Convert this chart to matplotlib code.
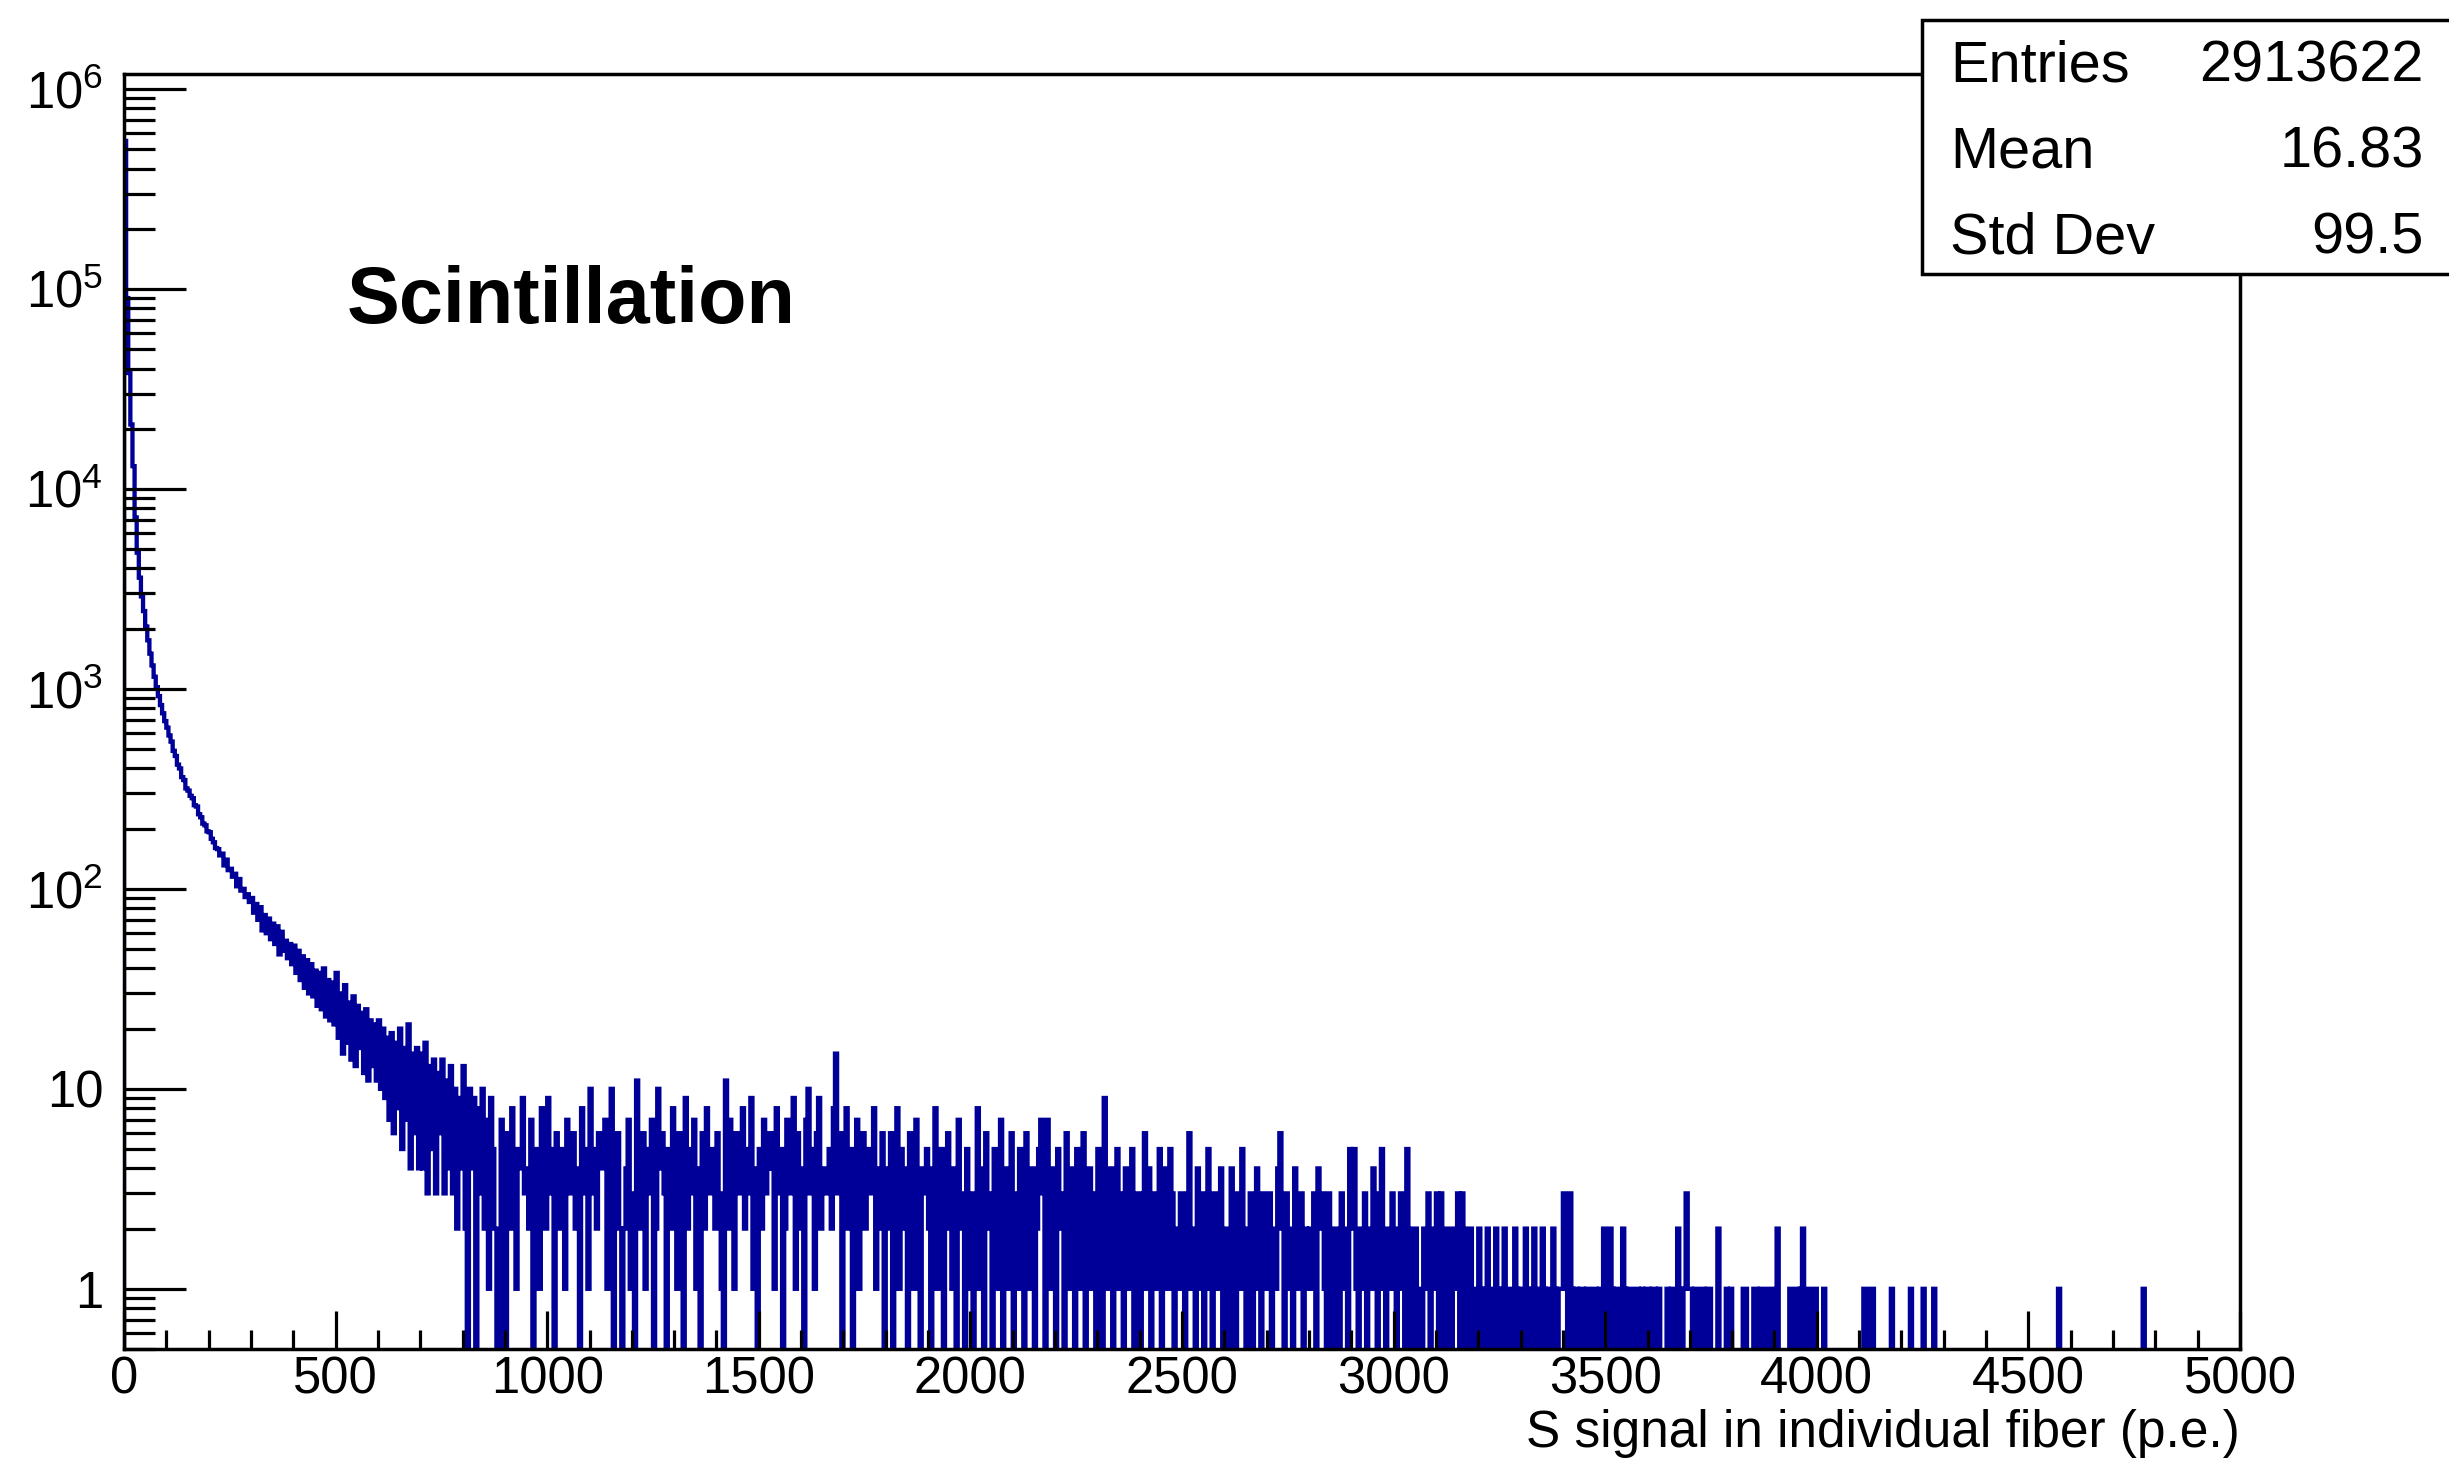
import numpy as np
import matplotlib.pyplot as plt
from matplotlib.patches import Rectangle
from matplotlib.ticker import MultipleLocator, LogLocator, NullFormatter, FixedLocator

plt.rcParams['font.family'] = ['Liberation Sans', 'DejaVu Sans']
plt.rcParams['mathtext.fontset'] = 'custom'
plt.rcParams['mathtext.rm'] = 'Liberation Sans'
plt.rcParams['mathtext.it'] = 'Liberation Sans:italic'
plt.rcParams['mathtext.bf'] = 'Liberation Sans:bold'

# histogram: 5 p.e. bins from 0 to 5000, counts
bin_width = 5
x_max = 5000

# 0 - 100 p.e.
head_counts = [550000, 90000, 38000, 21000, 13000, 7200, 4800, 3600, 2900, 2450,
               2050, 1750, 1500, 1310, 1150, 1020, 920, 830, 755, 690]

# 100 - 900 p.e.
falloff_counts = [
    640, 585, 545, 490, 462, 418, 400, 362, 350, 318, 310, 292, 284, 262, 258, 236, 228, 212, 208, 194,
    192, 178, 171, 160, 158, 147, 150, 131, 140, 124, 126, 115, 119, 103, 112, 98, 100, 91, 94, 86,
    90, 76, 84, 70, 81, 62, 74, 60, 71, 56, 67, 53, 65, 47, 61, 49, 55, 45, 53, 42,
    52, 38, 49, 35, 46, 32, 44, 30, 42, 29, 39, 26, 38, 25, 40, 23, 35, 22, 34, 21,
    38, 18, 30, 15, 33, 17, 27, 14, 29, 13, 26, 16, 24, 12, 25, 11, 22, 13, 21, 11,
    22, 10, 20, 9, 18, 7, 19, 6, 17, 8, 20, 5, 16, 7, 21, 4, 15, 6, 16, 4,
    15, 4, 17, 3, 13, 5, 14, 3, 12, 6, 14, 3, 11, 4, 13, 3, 10, 2, 9, 4,
    13, 2, 0, 10, 4, 9, 0, 8, 3, 10, 2, 7, 1, 9, 5, 2, 0, 0, 7, 3,
]

# 900 - 2800 p.e.
plateau_counts = [
    0, 6, 2, 8, 3, 1, 5, 4, 9, 3, 4, 2, 7, 0, 5, 3, 1, 8, 4, 2,
    9, 3, 5, 0, 6, 2, 5, 4, 1, 7, 3, 4, 6, 2, 4, 0, 8, 3, 5, 1,
    10, 3, 5, 2, 6, 4, 4, 7, 1, 5, 10, 0, 3, 6, 2, 0, 2, 4, 7, 1,
    3, 0, 11, 4, 2, 6, 1, 5, 3, 7, 0, 2, 10, 4, 6, 3, 0, 5, 2, 8,
    4, 1, 6, 3, 0, 9, 2, 5, 3, 7, 1, 4, 0, 6, 2, 8, 3, 5, 5, 2,
    6, 3, 1, 0, 11, 2, 7, 4, 1, 6, 3, 5, 8, 2, 5, 3, 9, 1, 4, 0,
    5, 2, 7, 3, 4, 6, 4, 1, 8, 3, 5, 0, 2, 7, 4, 3, 9, 1, 6, 2,
    4, 0, 7, 10, 3, 5, 1, 6, 9, 2, 4, 3, 3, 5, 2, 8, 15, 3, 6, 0,
    3, 8, 2, 5, 0, 4, 7, 1, 3, 6, 2, 5, 5, 3, 8, 1, 4, 2, 6, 0,
    4, 2, 6, 0, 3, 8, 1, 5, 2, 4, 0, 6, 3, 1, 7, 2, 0, 4, 3, 5,
    2, 0, 4, 8, 1, 3, 5, 0, 2, 6, 3, 1, 4, 0, 7, 2, 3, 0, 5, 1,
    3, 0, 2, 8, 1, 4, 0, 6, 2, 3, 0, 5, 1, 3, 7, 0, 2, 4, 1, 6,
    0, 3, 1, 5, 2, 0, 6, 3, 1, 4, 0, 2, 5, 7, 3, 0, 7, 1, 4, 2,
    0, 5, 2, 3, 0, 6, 1, 4, 2, 0, 5, 3, 1, 6, 0, 2, 4, 1, 3, 0,
    5, 2, 0, 9, 3, 1, 4, 0, 2, 5, 1, 3, 0, 4, 2, 1, 5, 0, 3, 2,
    0, 3, 6, 1, 4, 0, 2, 3, 1, 5, 0, 2, 4, 1, 5, 3, 0, 2, 1, 3,
    2, 0, 3, 6, 1, 2, 0, 4, 1, 3, 0, 2, 5, 1, 0, 3, 2, 1, 4, 0,
    2, 1, 0, 4, 2, 0, 3, 1, 5, 2, 0, 1, 3, 0, 2, 4, 1, 0, 3, 2,
    1, 3, 0, 2, 1, 4, 6, 2, 0, 3, 1, 2, 0, 4, 2, 1, 3, 0, 2, 1,
]

# 2800 - 4000 p.e.
tail_counts = [
    2, 1, 3, 0, 4, 2, 3, 1, 0, 3, 2, 0, 1, 2, 0, 3, 1, 2, 0, 5,
    2, 5, 1, 0, 2, 1, 3, 0, 2, 1, 4, 3, 0, 2, 5, 1, 0, 2, 1, 3,
    1, 0, 2, 3, 1, 0, 5, 2, 0, 1, 2, 0, 1, 0, 2, 1, 3, 0, 1, 2,
    3, 0, 3, 1, 0, 2, 1, 0, 2, 1, 3, 0, 3, 2, 0, 1, 2, 0, 1, 0,
    2, 1, 0, 1, 2, 0, 1, 0, 2, 1, 0, 1, 2, 0, 1, 1, 0, 2, 1, 0,
    1, 0, 2, 1, 0, 1, 2, 0, 1, 0, 2, 1, 0, 1, 0, 2, 1, 0, 1, 1,
    3, 1, 0, 3, 1, 0, 1, 0, 1, 1, 0, 1, 0, 0, 1, 1, 0, 1, 0, 2,
    1, 0, 2, 1, 0, 1, 0, 0, 2, 1, 0, 1, 1, 0, 0, 1, 0, 1, 0, 1,
    1, 0, 1, 1, 0, 1, 0, 0, 0, 1, 0, 1, 1, 0, 2, 1, 0, 1, 3, 1,
    1, 0, 1, 1, 0, 0, 1, 0, 1, 1, 0, 0, 0, 2, 0, 0, 0, 1, 0, 1,
    0, 0, 0, 0, 0, 1, 1, 0, 0, 0, 1, 1, 0, 1, 0, 0, 1, 0, 0, 1,
    0, 2, 0, 0, 0, 0, 0, 1, 0, 0, 1, 0, 1, 2, 0, 0, 1, 0, 0, 1,
]

# single entries beyond 4000 p.e.
far_tail_hits = [4015, 4110, 4118, 4131, 4176, 4220, 4252, 4279, 4574, 4773]

stats_labels = ['Entries', 'Mean', 'Std Dev']
stats_values = ['2913622', '16.83', '99.5']

y_ticks = [1, 10, 1e2, 1e3, 1e4, 1e5, 1e6]
y_tick_labels = ['1', '10', r'$10^{2}$', r'$10^{3}$', r'$10^{4}$', r'$10^{5}$', r'$10^{6}$']

counts = np.zeros(int(x_max / bin_width))
dense = np.array(head_counts + falloff_counts + plateau_counts + tail_counts, dtype=float)
counts[:len(dense)] = dense
for hit in far_tail_hits:
    counts[int(hit // bin_width)] += 1
edges = np.arange(0, x_max + bin_width, bin_width)

W, H = 2449, 1468
fig = plt.figure(figsize=(W / 100, H / 100), dpi=100)
ax = fig.add_axes([124 / W, 1 - 1349 / H, 2116 / W, (1349 - 74.3) / H])

floor = 1e-2
ax.stairs(np.where(counts > 0, counts, floor), edges, baseline=floor,
          color='#000099', lw=3.1)

ax.set_yscale('log')
ax.set_ylim(0.5, 1.184e6)
ax.set_xlim(0, x_max)

ax.yaxis.set_major_locator(FixedLocator(y_ticks))
ax.set_yticklabels(y_tick_labels)
ax.yaxis.set_minor_locator(LogLocator(base=10, subs=np.arange(2, 10), numticks=30))
ax.yaxis.set_minor_formatter(NullFormatter())
ax.xaxis.set_major_locator(MultipleLocator(500))
ax.xaxis.set_minor_locator(MultipleLocator(100))

ax.tick_params(axis='both', which='both', direction='in', top=False, right=False)
ax.tick_params(axis='y', which='major', length=44.6, width=2.3, labelsize=36.5, pad=15)
ax.tick_params(axis='y', which='minor', length=22.3, width=2.3)
ax.tick_params(axis='x', which='major', length=27.5, width=2.3, labelsize=36.5, pad=5)
ax.tick_params(axis='x', which='minor', length=13.7, width=2.3)
for s in ax.spines.values():
    s.set_linewidth(2.5)

fig.text(2240 / W, 1 - 1434 / H, 'S signal in individual fiber (p.e.)',
         ha='right', va='center', fontsize=37)
fig.text(347 / W, 1 - 323 / H, 'Scintillation', ha='left', va='baseline',
         fontsize=57, fontweight='bold')

# stats box
fig.add_artist(Rectangle((1922 / W, 1 - 274 / H), (2460 - 1922) / W, (274 - 20) / H,
                         transform=fig.transFigure, facecolor='white',
                         edgecolor='black', lw=2.5))
for i, (lab, val) in enumerate(zip(stats_labels, stats_values)):
    yb = 1 - (82 + 86 * i) / H
    fig.text(1950 / W, yb, lab, ha='left', va='baseline', fontsize=41.5)
    fig.text(2424 / W, yb, val, ha='right', va='baseline', fontsize=41.5)

fig.savefig('out.png', dpi=100)
